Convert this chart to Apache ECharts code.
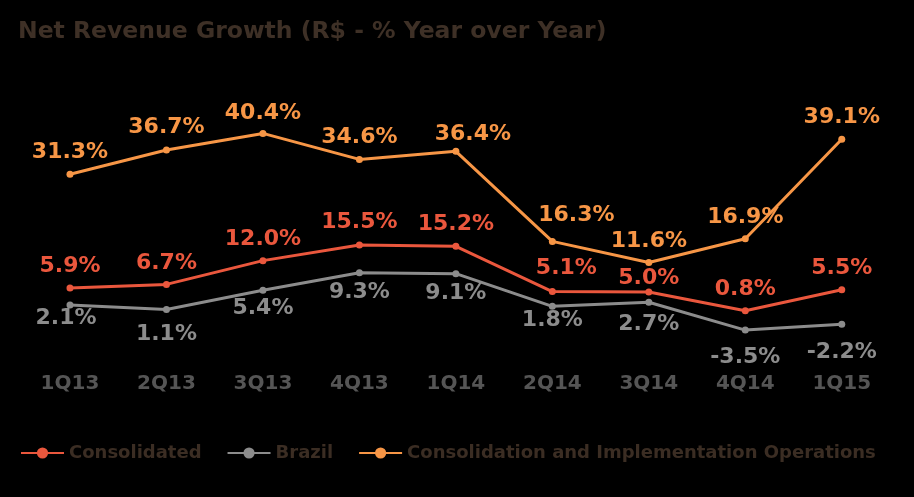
<!DOCTYPE html>
<html>
<head>
<meta charset="utf-8">
<script src="https://cdn.jsdelivr.net/npm/echarts@6/dist/echarts.min.js"></script>
<style>
html,body{margin:0;padding:0;background:#000;}
#c{width:914px;height:497px;}
</style>
</head>
<body>
<div id="c"></div>
<script>
const categories = ['1Q13','2Q13','3Q13','4Q13','1Q14','2Q14','3Q14','4Q14','1Q15'];
const consolidated = [5.9, 6.7, 12.0, 15.5, 15.2, 5.1, 5.0, 0.8, 5.5];
const brazil = [2.1, 1.1, 5.4, 9.3, 9.1, 1.8, 2.7, -3.5, -2.2];
const ciOps = [31.3, 36.7, 40.4, 34.6, 36.4, 16.3, 11.6, 16.9, 39.1];
const seriesNames = ['Consolidated', 'Brazil', 'Consolidation and Implementation Operations'];

// label nudges [dx, dy] per point (style only)
const offConsolidated = [[0,0],[0,0],[0,0],[0,-1],[0,-1],[14,-2],[0,8],[0,0],[0,0]];
const offBrazil = [[-4,-5],[0,6],[0,0],[0,1],[0,1],[0,-5],[0,3],[0,9],[0,10]];
const offCi = [[0,0],[0,-1],[0,1],[0,-1],[17,4],[24,-5],[0,0],[0,0],[0,0]];

const FONT = 'DejaVu Sans';
const COLORS = ['#EA573D', '#8C8C8C', '#F79646'];

function mk(values, offs) {
  return values.map((v, i) => ({ value: v, label: { offset: offs[i] } }));
}

function series(name, values, offs, color, pos, dist) {
  return {
    name: name,
    type: 'line',
    data: mk(values, offs),
    symbol: 'circle',
    symbolSize: 7,
    lineStyle: { color: color, width: 3 },
    itemStyle: { color: color },
    label: {
      show: true,
      position: pos,
      distance: dist,
      color: color,
      fontFamily: FONT,
      fontWeight: 'bold',
      fontSize: 22,
      formatter: p => p.value.toFixed(1) + '%'
    },
    emphasis: { disabled: true },
    animation: false
  };
}

const chart = echarts.init(document.getElementById('c'));
chart.setOption({
  backgroundColor: '#000000',
  animation: false,
  title: {
    text: 'Net Revenue Growth (R$ - % Year over Year)',
    left: 13,
    top: 15,
    textStyle: { color: '#3E3026', fontFamily: FONT, fontWeight: 'bold', fontSize: 23.5 }
  },
  legend: {
    left: 15,
    top: 439,
    itemWidth: 43,
    itemHeight: 14,
    itemGap: 25,
    textStyle: { color: '#3B2D23', fontFamily: FONT, fontWeight: 'bold', fontSize: 18 },
    data: seriesNames
  },
  grid: { left: 21.75, right: 24, top: 90.4, bottom: 137.8 },
  xAxis: {
    type: 'category',
    data: categories,
    axisLine: { show: false },
    axisTick: { show: false },
    axisLabel: { color: '#555555', fontFamily: FONT, fontWeight: 'bold', fontSize: 20, margin: 15 }
  },
  yAxis: {
    type: 'value',
    min: -10,
    max: 50,
    interval: 10,
    show: false,
    splitLine: { show: false }
  },
  series: [
    series(seriesNames[0], consolidated, offConsolidated, COLORS[0], 'top', 7),
    series(seriesNames[1], brazil, offBrazil, COLORS[1], 'bottom', 4),
    series(seriesNames[2], ciOps, offCi, COLORS[2], 'top', 7)
  ]
});
</script>
</body>
</html>
